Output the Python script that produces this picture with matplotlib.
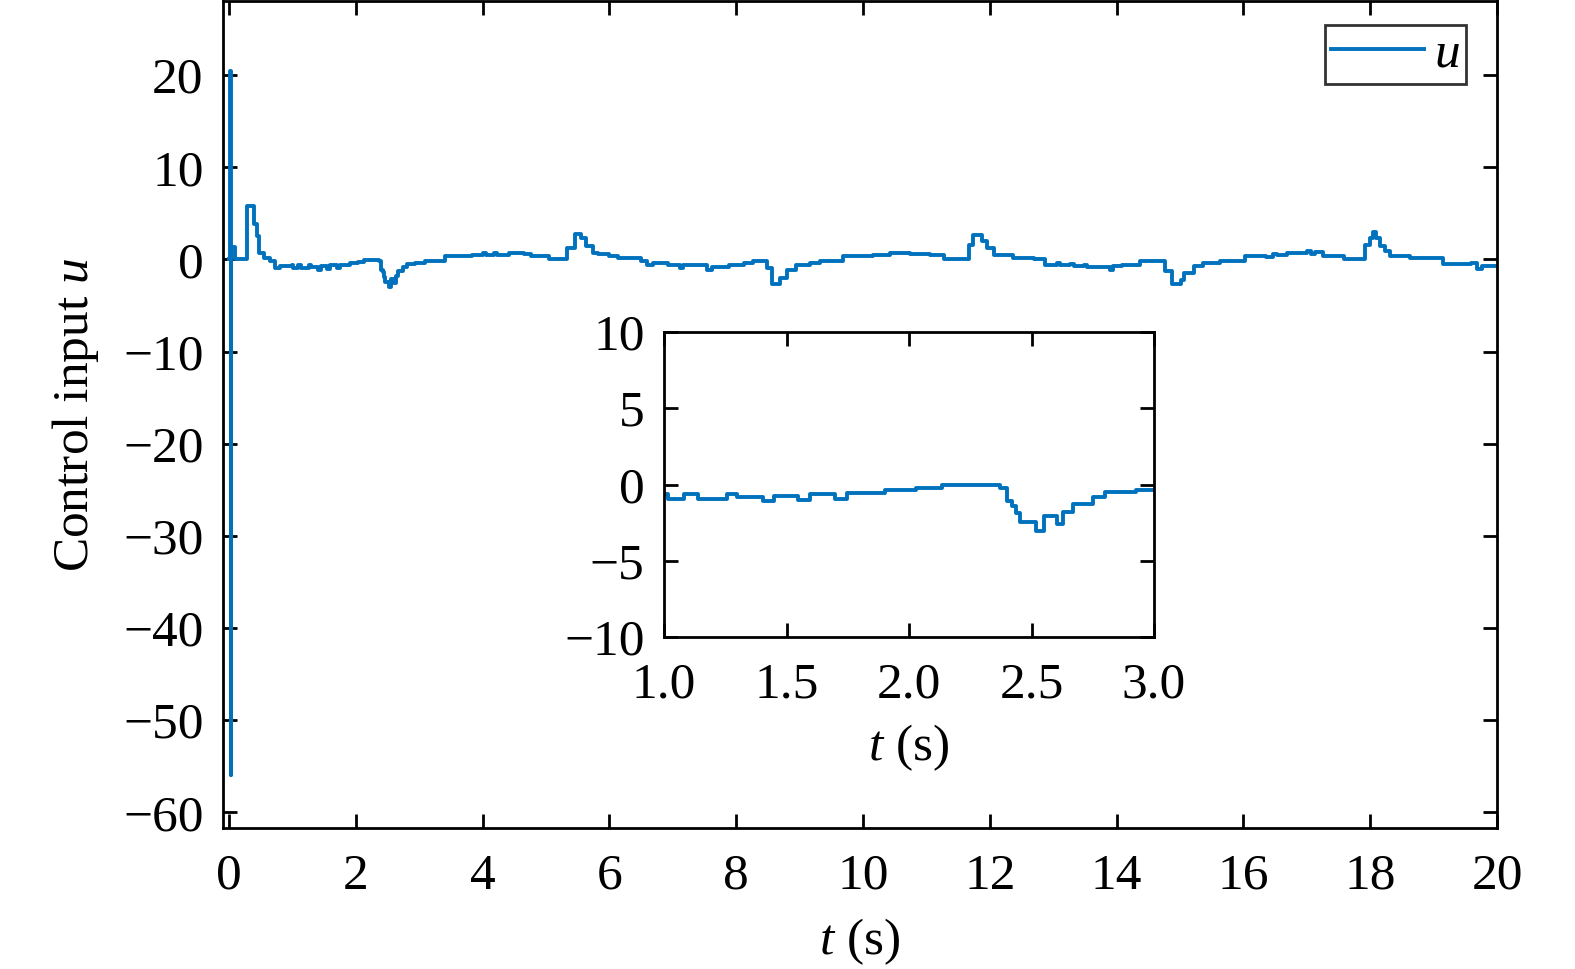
import numpy as np
import matplotlib
matplotlib.use('Agg')
import matplotlib.pyplot as plt

plt.rcParams['font.family'] = ['Liberation Serif', 'DejaVu Serif']
plt.rcParams['mathtext.fontset'] = 'custom'
plt.rcParams['mathtext.rm'] = 'Liberation Serif'
plt.rcParams['mathtext.it'] = 'Liberation Serif:italic'
plt.rcParams['axes.unicode_minus'] = True

# control input u(t) (plateau start times, steps-post)
t_data = [0.0, 0.015, 0.025, 0.035, 0.1, 0.28, 0.40, 0.44, 0.47, 0.55, 0.65, 0.73, 0.81,
          1.0, 1.016, 1.08, 1.137, 1.257, 1.297, 1.402, 1.45, 1.546, 1.594, 1.699, 1.747,
          1.9, 2.028, 2.133, 2.373, 2.398, 2.422, 2.438, 2.454, 2.518, 2.55, 2.606, 2.63,
          2.67, 2.751, 2.8, 2.928, 3.09, 3.41, 3.83, 4.01, 4.05, 4.18, 4.23, 4.41, 4.65, 4.77,
          5.04, 5.33, 5.45, 5.55, 5.63, 5.74, 5.82, 6.0, 6.13, 6.5, 6.59, 6.69, 6.93, 7.11,
          7.16, 7.54, 7.61, 7.88, 8.12, 8.27, 8.48, 8.56, 8.69, 8.8, 8.95, 9.17, 9.32, 9.69,
          10.16, 10.42, 10.74, 11.06, 11.27, 11.67, 11.74, 11.87, 11.95, 12.06, 12.37, 12.69,
          12.87, 13.06, 13.11, 13.27, 13.32, 13.48, 13.53, 13.89, 13.94, 14.08, 14.37, 14.77,
          14.88, 15.01, 15.06, 15.22, 15.37, 15.63, 16.02, 16.36, 16.46, 16.53, 16.69, 17.01,
          17.06, 17.13, 17.26, 17.58, 17.92, 18.0, 18.05, 18.09, 18.16, 18.24, 18.31, 18.63,
          19.15, 19.59, 19.69, 19.77, 20.0]
u_data = [0.0, 20.5, -56.0, 1.3, 0.0, 5.8, 3.8, 2.5, 0.7, 0.18, -0.18, -0.98, -0.72,
          -0.65, -0.98, -0.65, -0.93, -0.6, -0.83, -1.09, -0.76, -1.04, -0.65, -0.98, -0.59,
          -0.39, -0.24, -0.04, -0.22, -1.09, -1.41, -1.85, -2.43, -3.04, -2.07, -2.57, -1.8,
          -1.3, -0.83, -0.5, -0.33, -0.18, 0.36, 0.47, 0.72, 0.47, 0.72, 0.47, 0.72, 0.54, 0.36,
          0.0, 1.27, 2.79, 2.35, 1.45, 0.72, 0.54, 0.36, 0.18, -0.18, -0.65, -0.36, -0.62, -0.98,
          -0.65, -1.09, -0.87, -0.58, -0.4, -0.22, -0.94, -2.68, -2.03, -1.09, -0.58, -0.4, -0.22, 0.33,
          0.51, 0.69, 0.62, 0.51, 0.04, 1.6, 2.68, 1.96, 1.23, 0.47, 0.18, 0.0,
          -0.58, -0.4, -0.58, -0.47, -0.76, -0.58, -0.83, -1.1, -0.72, -0.62, -0.18, -1.27,
          -2.68, -2.2, -1.45, -0.72, -0.43, -0.18, 0.36, 0.25, 0.54, 0.45, 0.65, 0.9,
          0.55, 0.8, 0.36, 0.0, 1.6, 2.35, 3.0, 2.35, 1.45, 0.9, 0.43, 0.11,
          -0.47, -0.4, -1.0, -0.72, -0.72]

x_ticks = [0, 2, 4, 6, 8, 10, 12, 14, 16, 18, 20]
y_ticks = [-60, -50, -40, -30, -20, -10, 0, 10, 20]
inset_x_ticks = [1.0, 1.5, 2.0, 2.5, 3.0]
inset_y_ticks = [-10, -5, 0, 5, 10]

blue = '#0072BD'
fs = 37


def style_axes(ax):
    for s in ax.spines.values():
        s.set_linewidth(2.0)
    ax.tick_params(direction='in', length=10, width=2.0, top=True, right=True,
                   labelsize=fs)
    ax.tick_params(axis='x', pad=18)
    ax.tick_params(axis='y', pad=14)


fig = plt.figure(figsize=(15.75, 9.69), dpi=100)
ax = fig.add_axes([0.1416, 0.1455, 0.8089, 0.853])
ax.plot(t_data, u_data, color=blue, lw=2.8, drawstyle='steps-post', label='$u$')
ax.set_xlim(-0.095, 20)
ax.set_ylim(-61.7, 28)
ax.set_xticks(x_ticks)
ax.set_yticks(y_ticks)
style_axes(ax)
ax.set_xlabel('$t$ (s)', fontsize=fs, labelpad=12)
ax.set_ylabel('Control input $u$', fontsize=fs, labelpad=16)
leg = ax.legend(loc='upper right', fontsize=fs, handlelength=1.8, handletextpad=0.2,
                borderpad=0.12, borderaxespad=0, fancybox=False, edgecolor='black',
                bbox_to_anchor=(0.9757, 0.972))
leg.get_frame().set_linewidth(2.0)

axin = fig.add_axes([0.4216, 0.3426, 0.3111, 0.3148])
axin.plot(t_data, u_data, color=blue, lw=2.8, drawstyle='steps-post')
axin.set_xlim(1.0, 3.0)
axin.set_ylim(-10, 10)
axin.set_xticks(inset_x_ticks)
axin.set_xticklabels(['%.1f' % v for v in inset_x_ticks])
axin.set_yticks(inset_y_ticks)
style_axes(axin)
axin.set_xlabel('$t$ (s)', fontsize=fs, labelpad=10)

fig.savefig('out.png', dpi=100)
